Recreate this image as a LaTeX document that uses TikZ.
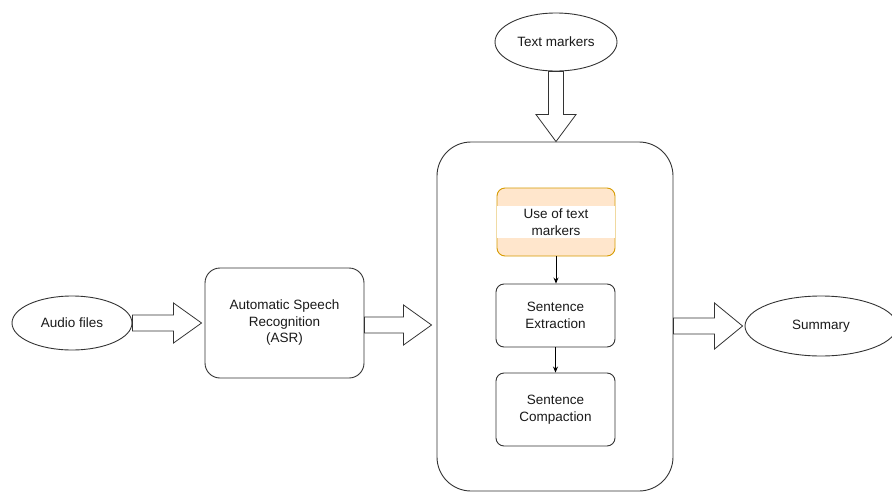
\documentclass[tikz,border=0pt]{standalone}
\usepackage{fontspec}
\setmainfont{Liberation Sans}
\usetikzlibrary{calc,arrows.meta,shapes.geometric}
\definecolor{edge}{HTML}{333333}
\definecolor{ink}{HTML}{1A1A1A}
\definecolor{peach}{HTML}{FFE6CC}
\definecolor{amber}{HTML}{D79B00}

% hollow block arrow pointing right: #1 start, #2 tip, #3 head half-height
\newcommand\fatarrowright[3]{%
  \draw[fatarrow] let \p1=(#1), \p2=(#2) in
    (\x1,\y1+8) -- (\x2-28,\y1+8) -- (\x2-28,\y1+#3) -- (\x2,\y1)
    -- (\x2-28,\y1-#3) -- (\x2-28,\y1-8) -- (\x1,\y1-8) -- cycle;}
% hollow block arrow pointing down: #1 start, #2 tip
\newcommand\fatarrowdown[2]{%
  \draw[fatarrow] let \p1=(#1), \p2=(#2) in
    (\x1-7.5,\y1) -- (\x1-7.5,\y2+27) -- (\x1-20,\y2+27) -- (\x1,\y2)
    -- (\x1+20,\y2+27) -- (\x1+7.5,\y2+27) -- (\x1+7.5,\y1) -- cycle;}

\begin{document}
\begin{tikzpicture}[x=1pt,y=-1pt,
  font=\fontsize{13.5}{16.5}\selectfont, text=ink,
  oval/.style={ellipse, draw=edge, line width=0.9pt, fill=white, inner sep=0pt},
  rbox/.style={rectangle, rounded corners=#1, draw=edge, line width=0.9pt,
               fill=white, align=center, inner sep=0pt},
  rbox/.default=8pt,
  fatarrow/.style={draw=edge, line width=0.8pt, fill=white},
  thin arrow/.style={draw=black, line width=0.9pt, -{Stealth[length=6pt,width=5pt]}}]
\clip (0,0) rectangle (892,493);
\fill[white] (0,0) rectangle (892,493);

% inputs, outputs and the ASR stage
\node[oval, minimum width=120, minimum height=54] (audio) at (72,323) {Audio files};
\node[rbox=15pt, minimum width=159, minimum height=110] (asr) at (284.5,323)
  {\raisebox{-1.5pt}{\begin{tabular}{@{}c@{}}Automatic Speech\\Recognition\\(ASR)\end{tabular}}};
\node[oval, minimum width=122, minimum height=58] (markers) at (556,42) {Text markers};
\node[oval, minimum width=152, minimum height=60] (summary) at (821,326) {Summary};

% summarisation block
\node[rbox=34pt, minimum width=236, minimum height=349] (core) at (555,316.5) {};

\node[rbox, draw=amber, fill=peach, minimum width=118, minimum height=68] (use) at (556,222) {};
\fill[white] ($(use.west)+(0.6,-16)$) rectangle ($(use.east)+(-0.6,16)$);
\node[align=center] (usetext) at (use) {Use of text\\markers};

\node[rbox, minimum width=119, minimum height=63] (extract) at (555.5,315.5)
  {Sentence\\Extraction};
\node[rbox, minimum width=119, minimum height=73] (compact) at (555.5,409.5)
  {Sentence\\Compaction};

% flow inside the block
\draw[thin arrow] (use.south) -- (use.south |- extract.north);
\draw[thin arrow] (extract.south) -- (compact.north);

% block arrows between stages
\fatarrowright{audio.east}{$(asr.west)+(-3,0)$}{20}
\fatarrowright{$(asr.east)+(0,2)$}{$(core.west)+(-5,0)$}{20}
\fatarrowright{core.east |- summary.west}{$(summary.west)+(-2,0)$}{23}
\fatarrowdown{markers.south}{core.north}
\end{tikzpicture}
\end{document}
